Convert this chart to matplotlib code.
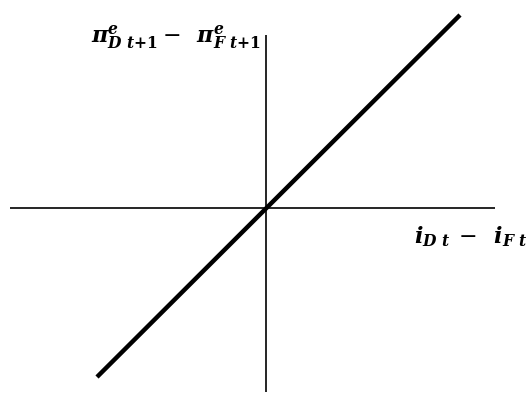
import matplotlib
matplotlib.use("Agg")
import matplotlib.pyplot as plt

plt.rcParams['mathtext.fontset'] = 'dejavuserif'

# Axis extents (origin at 0, 0)
x_axis = [-2.56, 2.29]
y_axis = [-1.84, 1.73]

# 45-degree relation between the interest differential and expected inflation differential
line_x = [-1.69, 1.94]
line_y = [-1.69, 1.93]

y_label = (r'$\mathbfit{\pi}^{\mathbfit{e}}_{\mathbfit{D}\ \mathbfit{t}\mathbf{+1}}'
           r' - \;\; \mathbfit{\pi}^{\mathbfit{e}}_{\mathbfit{F}\ \mathbfit{t}\mathbf{+1}}$')
x_label = r'$\mathbfit{i}_{\mathbfit{D}\ \mathbfit{t}} \;-\;\; \mathbfit{i}_{\mathbfit{F}\ \mathbfit{t}}$'

fig = plt.figure(figsize=(5.29, 3.94), dpi=100)
ax = fig.add_axes([0, 0, 1, 1])
ax.set_xlim(-2.66, 2.63)
ax.set_ylim(-1.86, 2.08)
ax.axis('off')

ax.plot(x_axis, [0, 0], color='black', lw=1.2, solid_capstyle='butt')
ax.plot([0, 0], y_axis, color='black', lw=1.2, solid_capstyle='butt')
ax.plot(line_x, line_y, color='black', lw=3.2, solid_capstyle='butt')

ax.text(-0.05, 1.71, y_label, ha='right', va='center', fontsize=16)
ax.text(2.61, -0.29, x_label, ha='right', va='center', fontsize=16)

fig.savefig('out.png', dpi=100)
